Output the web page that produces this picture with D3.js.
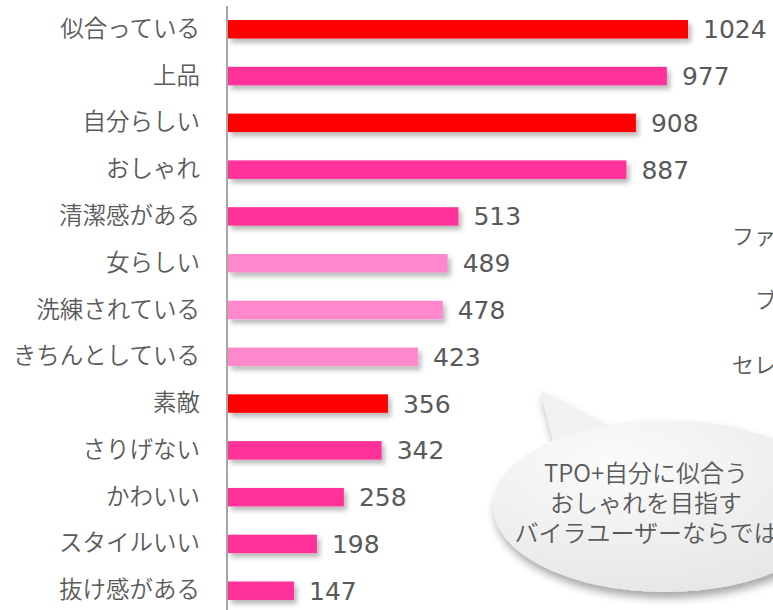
<!DOCTYPE html>
<html>
<head>
<meta charset="utf-8">
<script src="https://cdn.jsdelivr.net/npm/d3@7"></script>
<style>
  body { margin: 0; background: #fff; overflow: hidden; }
  text { font-family: "Noto Sans CJK JP", "Noto Sans", sans-serif; }
</style>
</head>
<body>
<div id="chart"></div>
<script>
// Data
const categories = ["似合っている", "上品", "自分らしい", "おしゃれ", "清潔感がある", "女らしい", "洗練されている",
  "きちんとしている", "素敵", "さりげない", "かわいい", "スタイルいい", "抜け感がある"];
const counts = [1024, 977, 908, 887, 513, 489, 478, 423, 356, 342, 258, 198, 147];
const groups = ["red", "pink", "red", "pink", "pink", "light", "light", "light", "red", "pink", "pink", "pink", "pink"];
const calloutLines = ["TPO+自分に似合う", "おしゃれを目指す", "バイラユーザーならでは"];
const sideLabels = [
  {text: "ファ", x: 732, y: 236},
  {text: "ブ", x: 755, y: 300},
  {text: "セレ", x: 732, y: 365}
];

const width = 773;
const height = 610;
const data = categories.map((c, i) => ({category: c, value: counts[i], group: groups[i]}));

const x = d3.scaleLinear()
  .domain([0, 1024])
  .range([228, 688]);

const y = d3.scaleBand()
  .domain(categories)
  .range([6, 614])
  .paddingInner(0.605)
  .paddingOuter(0.3);

const color = d3.scaleOrdinal()
  .domain(["red", "pink", "light"])
  .range(["#ff0000", "#ff3399", "#ff88cc"]);

const svg = d3.select("#chart").append("svg")
  .attr("width", width)
  .attr("height", height)
  .attr("viewBox", [0, 0, width, height]);

const defs = svg.append("defs");
defs.append("filter")
  .attr("id", "shadow")
  .attr("x", "-10%").attr("y", "-50%").attr("width", "130%").attr("height", "250%")
  .append("feDropShadow")
  .attr("dx", 3).attr("dy", 4).attr("stdDeviation", 2.5)
  .attr("flood-color", "#000").attr("flood-opacity", 0.28);

defs.append("filter")
  .attr("id", "bubbleShadow")
  .attr("x", "-20%").attr("y", "-20%").attr("width", "140%").attr("height", "150%")
  .append("feDropShadow")
  .attr("dx", 2).attr("dy", 6).attr("stdDeviation", 4)
  .attr("flood-color", "#000").attr("flood-opacity", 0.35);

const grad = defs.append("radialGradient")
  .attr("id", "bubbleFill")
  .attr("cx", "35%").attr("cy", "25%").attr("r", "80%");
grad.append("stop").attr("offset", "0%").attr("stop-color", "#fbfbfb");
grad.append("stop").attr("offset", "100%").attr("stop-color", "#e6e6e6");

// Bars
svg.append("g")
  .selectAll("rect")
  .data(data)
  .join("rect")
  .attr("x", x(0))
  .attr("y", d => y(d.category))
  .attr("width", d => x(d.value) - x(0))
  .attr("height", y.bandwidth())
  .attr("fill", d => color(d.group))
  .attr("filter", "url(#shadow)");

// Value labels
svg.append("g")
  .selectAll("text")
  .data(data)
  .join("text")
  .attr("x", d => x(d.value) + 15)
  .attr("y", d => y(d.category) + y.bandwidth() / 2)
  .attr("dy", "0.36em")
  .attr("fill", "#595959")
  .style("font-family", "'DejaVu Sans', Verdana, sans-serif")
  .style("font-size", "25px")
  .text(d => d.value);

// Left axis with category labels
svg.append("g")
  .attr("transform", `translate(${x(0) - 1},0)`)
  .call(d3.axisLeft(y).tickSize(0).tickPadding(27).tickSizeOuter(0))
  .call(g => g.select(".domain")
    .attr("d", `M0,6V${height}`)
    .attr("stroke", "#a6a6a6")
    .attr("stroke-width", 2))
  .call(g => g.selectAll(".tick text")
    .attr("fill", "#5a5a5a")
    .style("font-family", "'Noto Sans CJK JP', sans-serif")
    .style("font-weight", 350)
    .style("font-size", "23.5px"));

// Cut-off labels from the neighbouring chart
svg.append("g")
  .selectAll("text")
  .data(sideLabels)
  .join("text")
  .attr("x", d => d.x)
  .attr("y", d => d.y)
  .attr("dy", "0.35em")
  .attr("fill", "#595959")
  .style("font-weight", 350)
  .style("font-size", "22px")
  .text(d => d.text);

// Speech bubble callout
const bubble = svg.append("g").attr("filter", "url(#bubbleShadow)");
bubble.append("path")
  .attr("d", "M540,390L556,452L612,428Z")
  .attr("fill", "#f1f1f1");
bubble.append("ellipse")
  .attr("cx", 665).attr("cy", 506)
  .attr("rx", 172).attr("ry", 86)
  .attr("fill", "url(#bubbleFill)");

svg.append("g")
  .selectAll("text")
  .data(calloutLines)
  .join("text")
  .attr("x", 646)
  .attr("y", (d, i) => 474 + i * 30)
  .attr("dy", "0.35em")
  .attr("text-anchor", "middle")
  .attr("fill", "#595959")
  .style("font-weight", 350)
  .style("font-size", "24px")
  .text(d => d);
</script>
</body>
</html>
